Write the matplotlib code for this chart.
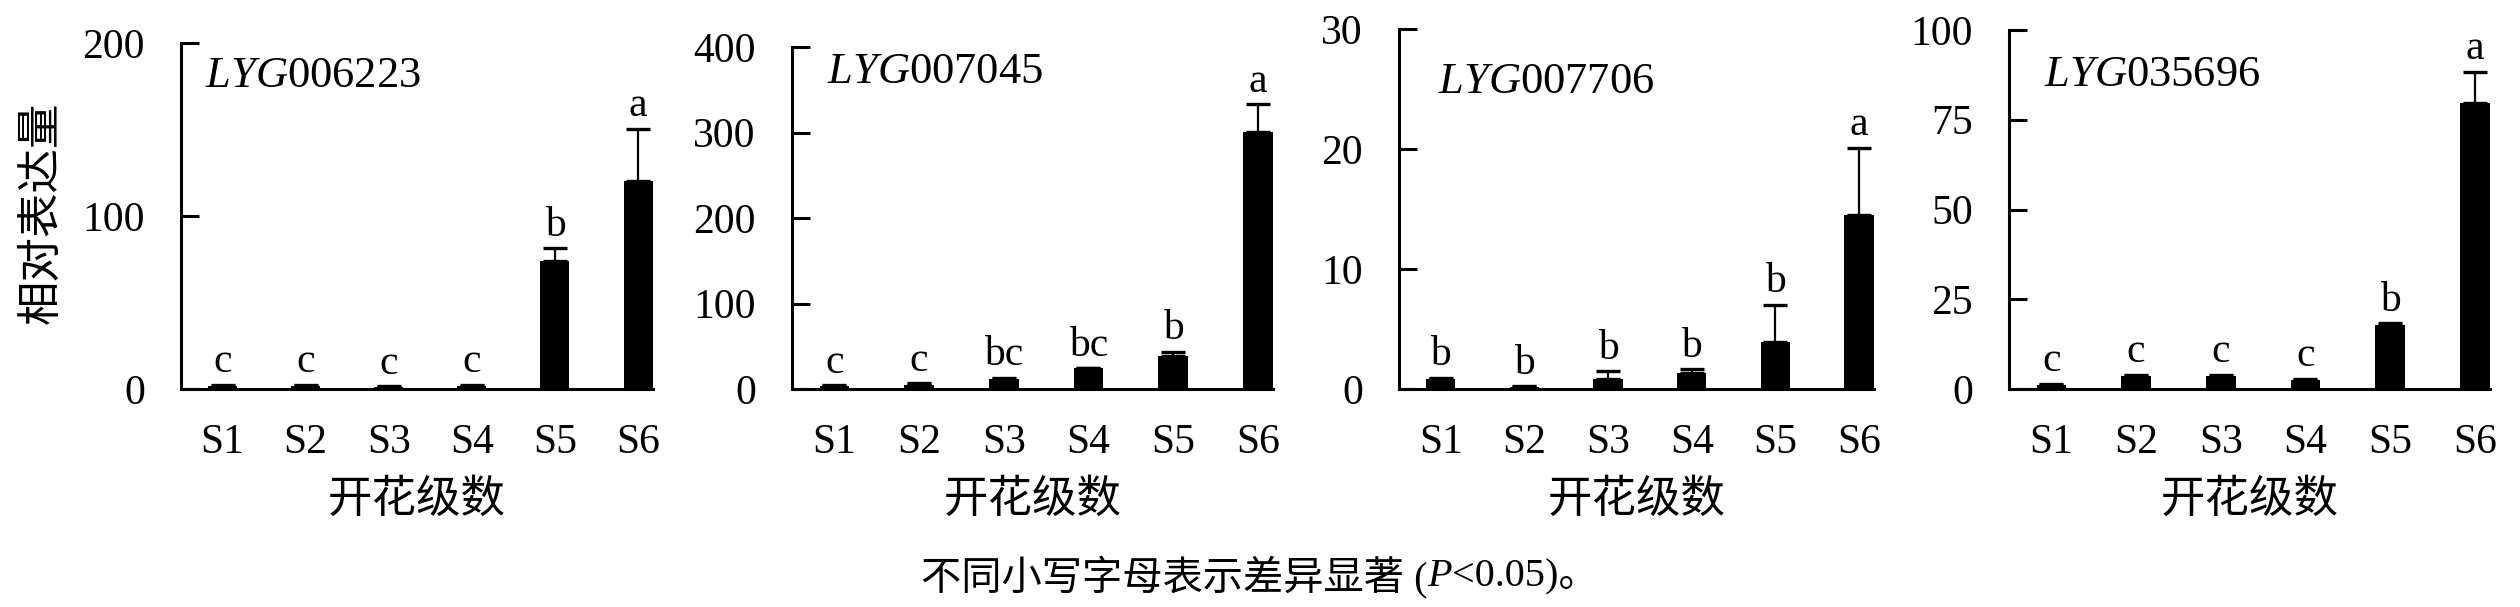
import matplotlib
matplotlib.use("Agg")
import matplotlib.pyplot as plt
import numpy as np

plt.rcParams['font.family'] = ['Liberation Serif', 'Noto Sans CJK SC']
plt.rcParams['mathtext.fontset'] = 'custom'
plt.rcParams['mathtext.rm'] = 'Liberation Serif'
plt.rcParams['mathtext.it'] = 'Liberation Serif:italic'

stages = ['S1', 'S2', 'S3', 'S4', 'S5', 'S6']
genes = ['006223', '007045', '007706', '035696']

mean_006223 = [2, 2, 1, 2, 74, 120]
err_006223 = [0.5, 0.5, 0.5, 0.5, 7.5, 30.5]
sig_006223 = ['c', 'c', 'c', 'c', 'b', 'a']

mean_007045 = [4, 5, 12, 24, 38.5, 301]
err_007045 = [0.5, 1.5, 1, 0.5, 5, 32]
sig_007045 = ['c', 'c', 'bc', 'bc', 'b', 'a']

mean_007706 = [0.85, 0.15, 0.83, 1.3, 3.9, 14.5]
err_007706 = [0.1, 0.1, 0.65, 0.35, 3.1, 5.6]
sig_007706 = ['b', 'b', 'b', 'b', 'b', 'a']

mean_035696 = [1.2, 3.7, 3.7, 2.6, 17.9, 79.8]
err_035696 = [0.2, 0.2, 0.2, 0.2, 0.4, 8.6]
sig_035696 = ['c', 'c', 'c', 'c', 'b', 'a']

ymax = [200, 400, 30, 100]
ystep = [100, 100, 10, 25]

means = [mean_006223, mean_007045, mean_007706, mean_035696]
errs = [err_006223, err_007045, err_007706, err_035696]
sigs = [sig_006223, sig_007045, sig_007706, sig_035696]

W, H = 2520, 607
fig = plt.figure(figsize=(W / 100, H / 100), dpi=100)

# axes boxes in pixels: left spine, right end, top
boxes = [(181, 653, 43), (792, 1273, 47), (1399, 1874, 29), (2009, 2490, 30)]
# gene name: x offset from spine, baseline y (pixels from top)
name_pos = [(24, 87), (35, 83), (39, 93), (35, 86)]
bottom_px = 389
fs = 30
cjk_fs = 32

x = np.arange(len(stages))
for i in range(4):
    left, right, top = boxes[i]
    ax = fig.add_axes([left / W, 1 - bottom_px / H, (right - left) / W, (bottom_px - top) / H])
    m = np.array(means[i])
    e = np.array(errs[i])
    ax.bar(x, m, width=0.35, color='black')
    ax.errorbar(x, m, yerr=[np.zeros_like(e), e], fmt='none', ecolor='black',
                elinewidth=1.6, capsize=8.5, capthick=2.4)
    for j in range(len(stages)):
        ax.annotate(sigs[i][j], (x[j], m[j] + e[j]), xytext=(0, 9),
                    textcoords='offset points', ha='center', va='baseline', fontsize=fs)
    ax.set_xlim(-0.5, 5.18)
    ax.set_ylim(0, ymax[i])
    ax.set_yticks(np.arange(0, ymax[i] + 1, ystep[i]))
    ax.set_xticks(x)
    ax.set_xticklabels(stages)
    ax.tick_params(axis='y', direction='in', length=13, width=2.2, labelsize=fs, pad=26)
    ax.tick_params(axis='x', length=0, labelsize=fs, pad=25)
    for s in ['top', 'right']:
        ax.spines[s].set_visible(False)
    for s in ['left', 'bottom']:
        ax.spines[s].set_linewidth(2.2)
    ax.set_xlabel('开花级数', fontsize=cjk_fs, labelpad=12)
    dx, base = name_pos[i]
    fig.text((left + dx) / W, 1 - base / H, r'$\mathit{LYG}$' + genes[i],
             ha='left', va='baseline', fontsize=32)

fig.text(42 / W, 1 - 213 / H, '相对表达量', rotation=90, ha='center', va='center',
         fontsize=cjk_fs)

# footnote built from runs so the P can be italic
renderer = fig.canvas.get_renderer()
runs = [('不同小写字母表示差异显著 (', 'normal'), ('P', 'italic'), ('<0.05)。', 'normal')]
texts = []
for s, style in runs:
    texts.append(fig.text(0, 1 - 577 / H, s, fontsize=29, style=style, va='center', ha='left'))
widths = [t.get_window_extent(renderer).width for t in texts]
xpos = 1260 - sum(widths) / 2
for t, w in zip(texts, widths):
    t.set_x(xpos / W)
    xpos += w

fig.savefig('out.png', dpi=100)
